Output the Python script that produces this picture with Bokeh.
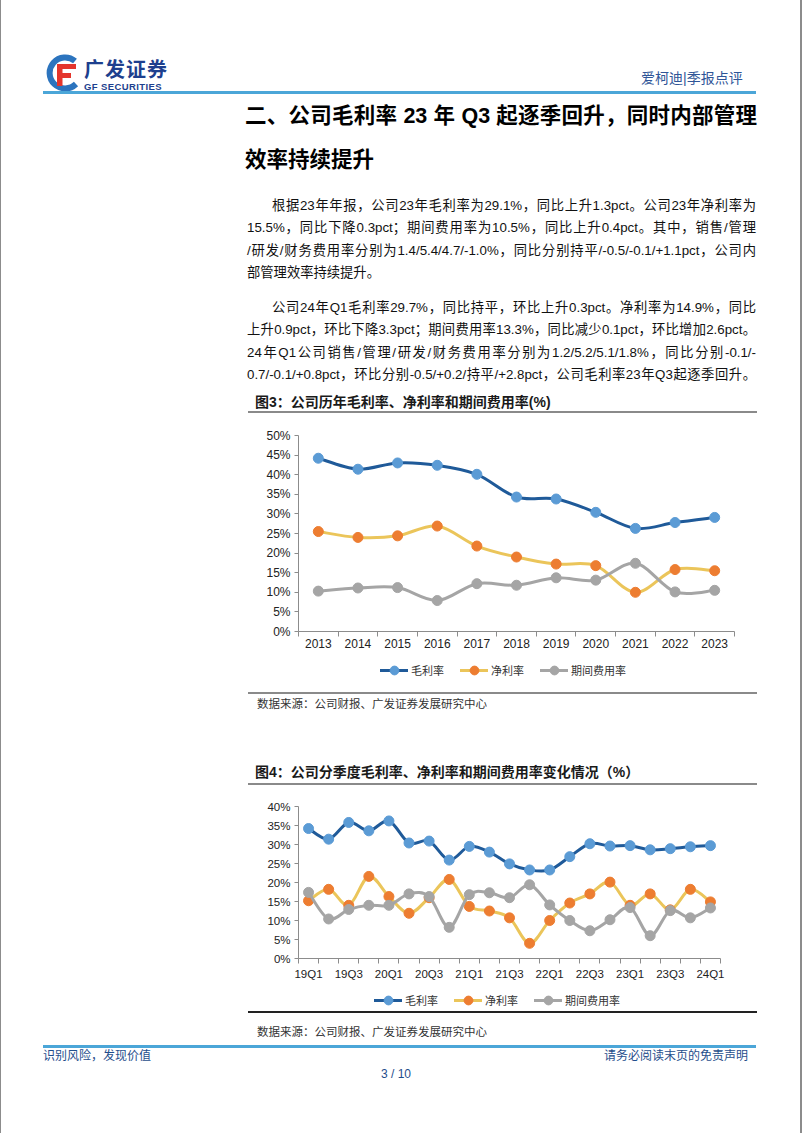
from bokeh.plotting import figure
from bokeh.models import Div, Column, FixedTicker, Legend, LegendItem, ColumnDataSource
from bokeh.embed import file_html
from bokeh.resources import INLINE

# ---------------- data ----------------
years = ["2013", "2014", "2015", "2016", "2017", "2018", "2019", "2020", "2021", "2022", "2023"]
gross_annual = [44.2, 41.4, 43.0, 42.4, 40.1, 34.3, 33.8, 30.4, 26.3, 27.8, 29.1]
net_annual = [25.5, 24.0, 24.4, 26.9, 21.8, 19.0, 17.2, 16.8, 10.0, 15.8, 15.5]
expense_annual = [10.3, 11.1, 11.2, 7.9, 12.2, 11.8, 13.7, 13.1, 17.4, 10.1, 10.5]
annual_yticks = [0, 5, 10, 15, 20, 25, 30, 35, 40, 45, 50]

quarters = ["19Q1", "19Q2", "19Q3", "19Q4", "20Q1", "20Q2", "20Q3", "20Q4",
            "21Q1", "21Q2", "21Q3", "21Q4", "22Q1", "22Q2", "22Q3", "22Q4",
            "23Q1", "23Q2", "23Q3", "23Q4", "24Q1"]
gross_quarter = [34.2, 31.4, 35.8, 33.6, 36.2, 30.4, 30.9, 25.9, 29.5, 28.0, 24.9,
                 23.3, 23.3, 26.8, 30.2, 29.6, 29.7, 28.6, 28.9, 29.4, 29.7]
net_quarter = [15.2, 18.2, 14.0, 21.6, 16.3, 11.9, 16.0, 20.8, 13.7, 12.5, 10.7,
               4.0, 10.0, 14.6, 17.0, 20.1, 14.0, 17.0, 12.8, 18.2, 14.9]
expense_quarter = [17.4, 10.4, 12.9, 14.0, 14.0, 17.0, 16.3, 8.2, 16.8, 17.3, 16.0,
                   19.4, 14.1, 10.0, 7.3, 10.2, 13.4, 6.0, 12.6, 10.7, 13.3]
quarter_yticks = [0, 5, 10, 15, 20, 25, 30, 35, 40]

series_names = ["毛利率", "净利率", "期间费用率"]

LINE_COLORS = ["#1F5A99", "#EBC55A", "#A5A5A5"]
MARK_COLORS = ["#5B9BD5", "#ED7D31", "#A5A5A5"]
LATIN = "Liberation Sans"
CJK = "Noto Sans CJK SC"
FONT_STACK = "'Liberation Sans','Noto Sans CJK SC',sans-serif"

FRAME_LEFT = 250      # frame spans wider than the axes so labels are not clipped
FRAME_RIGHT = 772
AXIS_LEFT = 298       # pixel position of the value axis


def smooth_source(xs, ys):
    n = len(xs)
    d = dict(x0=[], y0=[], x1=[], y1=[], cx0=[], cy0=[], cx1=[], cy1=[])
    for i in range(n - 1):
        a = max(i - 1, 0)
        b = min(i + 2, n - 1)
        d["x0"].append(xs[i]); d["y0"].append(ys[i])
        d["x1"].append(xs[i + 1]); d["y1"].append(ys[i + 1])
        d["cx0"].append(xs[i] + (xs[i + 1] - xs[a]) / 6)
        d["cy0"].append(ys[i] + (ys[i + 1] - ys[a]) / 6)
        d["cx1"].append(xs[i + 1] - (xs[b] - xs[i]) / 6)
        d["cy1"].append(ys[i + 1] - (ys[b] - ys[i]) / 6)
    return ColumnDataSource(d)


def make_chart(cats, series, yticks, label_step, height, top, plot_h, axis_right,
               font_size, x_standoff, legend_x, legend_y):
    """top: pixels above the top tick; plot_h: pixels from top tick to 0%.
    The frame covers the whole figure so tick labels and legend are not clipped."""
    n = len(cats)
    xs = list(range(n))
    ymax = yticks[-1]
    upp = ymax / plot_h
    ymin = -(height - top - plot_h) * upp
    yend = ymax + top * upp
    ppu = (axis_right - AXIS_LEFT) / n
    x0 = -0.5 - (AXIS_LEFT - FRAME_LEFT) / ppu
    x1 = n - 0.5 + (FRAME_RIGHT - axis_right) / ppu
    p = figure(width=802, height=height, x_range=(x0, x1),
               y_range=(ymin, yend),
               output_backend="svg", toolbar_location=None,
               min_border_left=FRAME_LEFT, min_border_right=802 - FRAME_RIGHT,
               min_border_top=0, min_border_bottom=0,
               border_fill_color=None, background_fill_color=None)
    p.outline_line_color = None
    p.xgrid.visible = False
    p.ygrid.visible = False

    items = []
    for name, lc, mc, ys in zip(series_names, LINE_COLORS, MARK_COLORS, series):
        src = smooth_source(xs, ys)
        bz = p.bezier(x0="x0", y0="y0", x1="x1", y1="y1", cx0="cx0", cy0="cy0",
                      cx1="cx1", cy1="cy1", source=src, line_color=lc, line_width=3,
                      line_cap="round")
        sc = p.scatter(x=xs, y=ys, size=10, marker="circle", fill_color=mc, line_color=mc)
        items.append(LegendItem(label=name, renderers=[bz, sc]))

    legend = Legend(items=items, orientation="horizontal", location=(legend_x, legend_y),
                    glyph_width=28, glyph_height=22, label_height=22, label_standoff=3,
                    spacing=16, padding=0, margin=0, border_line_color=None,
                    background_fill_alpha=0, label_text_font=CJK,
                    label_text_font_size="11px", label_text_color="#333333")
    p.add_layout(legend)

    xa = p.xaxis[0]
    xa.fixed_location = 0
    xa.bounds = (-0.5, n - 0.5)
    xa.ticker = FixedTicker(ticks=xs[::label_step],
                            minor_ticks=[i - 0.5 for i in range(n + 1)])
    xa.major_label_overrides = {i: cats[i] for i in xs[::label_step]}
    xa.major_tick_out = 0
    xa.major_tick_in = 0
    xa.minor_tick_out = 5
    xa.minor_tick_in = 0
    xa.axis_line_color = "#8C8C8C"
    xa.minor_tick_line_color = "#8C8C8C"
    xa.major_label_standoff = x_standoff
    xa.major_label_text_font = LATIN
    xa.major_label_text_font_size = font_size
    xa.major_label_text_color = "#222222"

    ya = p.yaxis[0]
    ya.fixed_location = -0.5
    ya.bounds = (yticks[0], ymax)
    ya.ticker = FixedTicker(ticks=yticks)
    ya.major_label_overrides = {t: f"{t}%" for t in yticks}
    ya.major_tick_out = 4
    ya.major_tick_in = 0
    ya.minor_tick_out = 0
    ya.minor_tick_in = 0
    ya.axis_line_color = "#8C8C8C"
    ya.major_tick_line_color = "#8C8C8C"
    ya.major_label_standoff = 4
    ya.major_label_text_font = LATIN
    ya.major_label_text_font_size = font_size
    ya.major_label_text_color = "#222222"
    return p


def txt(text, left, cy, size, color="#111111", weight="normal", width=None,
        justify=False, lh=None, extra=""):
    lh = lh or round(size * 1.4)
    top = cy - lh / 2
    style = (f"position:absolute;left:{left}px;top:{top}px;font-size:{size}px;"
             f"line-height:{lh}px;color:{color};font-weight:{weight};")
    if width:
        style += f"width:{width}px;"
    if justify:
        style += "text-align:justify;text-align-last:justify;"
    else:
        style += "white-space:nowrap;"
    return f'<div style="{style}{extra}">{text}</div>'


def hline(left, top, width, thick, color):
    return (f'<div style="position:absolute;left:{left}px;top:{top}px;width:{width}px;'
            f'height:{thick}px;background:{color};"></div>')


def box(inner, height):
    return (f'<div style="position:relative;width:802px;height:{height}px;'
            f'font-family:{FONT_STACK};overflow:hidden;">{inner}</div>')


# ---------------- top section ----------------
logo_svg = (
    '<svg style="position:absolute;left:44px;top:54px;" width="38" height="38" viewBox="0 0 38 38">'
    '<path d="M31 7 A15.5 15.5 0 1 0 32 30" stroke="#2C74BE" stroke-width="6" fill="none"/>'
    '<rect x="13" y="10" width="19" height="5" fill="#E4352C"/>'
    '<rect x="13" y="10" width="5.5" height="22" fill="#E4352C"/>'
    '<rect x="13" y="19" width="14" height="5" fill="#E4352C"/>'
    '</svg>'
)

para1 = [
    "根据23年年报，公司23年毛利率为29.1%，同比上升1.3pct。公司23年净利率为",
    "15.5%，同比下降0.3pct；期间费用率为10.5%，同比上升0.4pct。其中，销售/管理",
    "/研发/财务费用率分别为1.4/5.4/4.7/-1.0%，同比分别持平/-0.5/-0.1/+1.1pct，公司内",
    "部管理效率持续提升。",
]
para2 = [
    "公司24年Q1毛利率29.7%，同比持平，环比上升0.3pct。净利率为14.9%，同比",
    "上升0.9pct，环比下降3.3pct；期间费用率13.3%，同比减少0.1pct，环比增加2.6pct。",
    "24年Q1公司销售/管理/研发/财务费用率分别为1.2/5.2/5.1/1.8%，同比分别-0.1/-",
    "0.7/-0.1/+0.8pct，环比分别-0.5/+0.2/持平/+2.8pct，公司毛利率23年Q3起逐季回升。",
]
p1_y = [205, 227.5, 250, 272.5]
p2_y = [307, 329.5, 352, 374.5]

top_parts = [logo_svg,
             txt("广发证券", 84, 70, 20, color="#1D3F8E", weight="bold", extra="letter-spacing:1px;"),
             txt("GF SECURITIES", 84, 86.5, 9.5, color="#1D3F8E", weight="bold", lh=11,
                 extra="letter-spacing:0.4px;"),
             txt("爱柯迪|季报点评", 641, 78, 14, color="#2F5597"),
             hline(43, 91, 713, 2.5, "#4BA6D8"),
             txt("二、公司毛利率 23 年 Q3 起逐季回升，同时内部管理", 245, 116, 21.5,
                 color="#000000", weight="bold", width=512, justify=True),
             txt("效率持续提升", 245, 160, 21.5, color="#000000", weight="bold")]
for lines, ys in ((para1, p1_y), (para2, p2_y)):
    for k, (line, cy) in enumerate(zip(lines, ys)):
        left = 272 if k == 0 else 247
        last = k == len(lines) - 1 and line.endswith("提升。")
        top_parts.append(txt(line, left, cy, 13.3, color="#111111",
                             width=None if last else 756 - left, justify=not last))
top_parts.append(txt("图3：公司历年毛利率、净利率和期间费用率(%)", 255, 402, 14,
                     color="#1a1a1a", weight="bold"))
top_parts.append(hline(248, 411, 509, 1.5, "#8A8A8A"))
top_div = Div(text=box("".join(top_parts), 420), width=802, height=420, margin=0)

# ---------------- charts ----------------
chart1 = make_chart(years, [gross_annual, net_annual, expense_annual], annual_yticks, 1,
                    height=270, top=15, plot_h=196, axis_right=734, font_size="12px",
                    x_standoff=2, legend_x=380 - FRAME_LEFT, legend_y=9)

mid_parts = [hline(248, 2, 509, 1.5, "#8A8A8A"),
             txt("数据来源：公司财报、广发证券发展研究中心", 257, 14, 11.5, color="#333333"),
             txt("图4：公司分季度毛利率、净利率和期间费用率变化情况（%）", 255, 82, 14,
                 color="#1a1a1a", weight="bold"),
             hline(248, 93, 509, 1.5, "#8A8A8A")]
mid_div = Div(text=box("".join(mid_parts), 105), width=802, height=105, margin=0)

chart2 = make_chart(quarters, [gross_quarter, net_quarter, expense_quarter], quarter_yticks, 2,
                    height=216, top=11, plot_h=152, axis_right=720, font_size="11.5px",
                    x_standoff=4, legend_x=374 - FRAME_LEFT, legend_y=0)

bot_parts = [hline(248, 0, 509, 1.5, "#222222"),
             txt("数据来源：公司财报、广发证券发展研究中心", 257, 21, 11.5, color="#333333"),
             hline(43, 34, 713, 2.5, "#4BA6D8"),
             txt("识别风险，发现价值", 43, 45.5, 12, color="#1F4E8C"),
             txt("请务必阅读末页的免责声明", 604, 45.5, 12, color="#1F4E8C"),
             txt("3 / 10", 381, 63.5, 12, color="#1F4E8C")]
bot_div = Div(text=box("".join(bot_parts), 122), width=802, height=122, margin=0)

page = Column(children=[top_div, chart1, mid_div, chart2, bot_div], spacing=0,
              styles={"background-color": "white",
                      "box-shadow": "inset 1px 0 0 #8C8C8C, inset -2px 0 0 #8C8C8C"})

open("out.html", "w").write(file_html(page, INLINE))
